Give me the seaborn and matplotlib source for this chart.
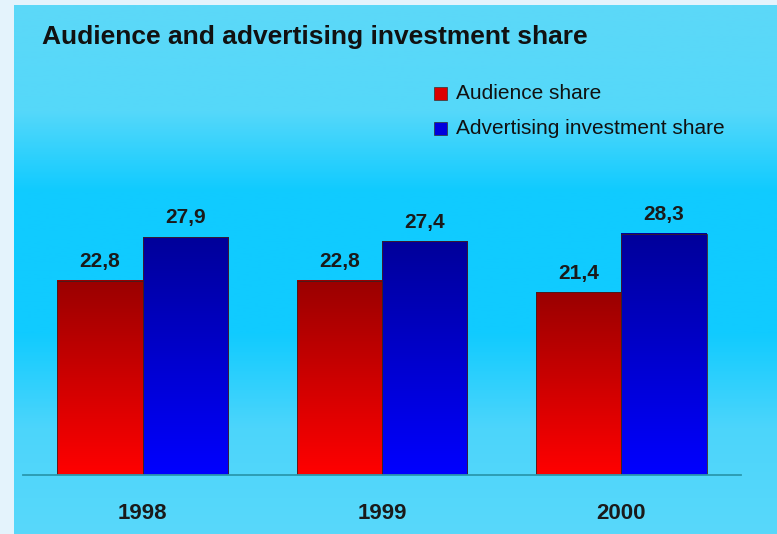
import matplotlib
matplotlib.use('Agg')
import matplotlib.pyplot as plt
import seaborn as sns
import numpy as np
import pandas as pd
from matplotlib.colors import LinearSegmentedColormap
from matplotlib.patches import Rectangle

years = ['1998', '1999', '2000']
audience = [22.8, 22.8, 21.4]
advertising = [27.9, 27.4, 28.3]
series = ['Audience share', 'Advertising investment share']

df = pd.DataFrame({
    'year': years * 2,
    'share': audience + advertising,
    'series': [series[0]] * 3 + [series[1]] * 3,
})

sns.set_theme(style='white')
plt.rcParams['font.family'] = ['Liberation Sans', 'DejaVu Sans']

W, H = 777, 534
fig = plt.figure(figsize=(W / 100, H / 100), dpi=100)
fig.patch.set_facecolor('#e4f3fc')

# panel with vertical gradient
bg = fig.add_axes([14 / W, 0, 763 / W, 529 / H], zorder=0)
bg.set_axis_off()
bg_cmap = LinearSegmentedColormap.from_list('bg', [
    (0.0, '#58d8fa'), (0.2, '#4cd5fb'), (0.38, '#10cbff'),
    (0.65, '#10cbff'), (0.8, '#55d8fa'), (1.0, '#5cd8f8')])
bg.imshow(np.linspace(0, 1, 256)[:, None], extent=[0, 1, 0, 1], origin='lower',
          aspect='auto', cmap=bg_cmap)
bg.set_xlim(0, 1)
bg.set_ylim(0, 1)

ax = fig.add_axes([23 / W, 59 / H, 718 / W, 300 / H], zorder=1)
ax.set_facecolor('none')
sns.barplot(data=df, x='year', y='share', hue='series', palette=['#cc0000', '#0000cc'],
            width=0.712, saturation=1, edgecolor='#402020', linewidth=0.6,
            legend=False, ax=ax)

cmaps = [LinearSegmentedColormap.from_list('r', ['#ff0000', '#9a0000']),
         LinearSegmentedColormap.from_list('b', ['#0000ff', '#00009a'])]
for cont, cm in zip(ax.containers, cmaps):
    for p in cont.patches:
        x0, w, h = p.get_x(), p.get_width(), p.get_height()
        p.set_facecolor('none')
        ax.imshow(np.linspace(0, 1, 128)[:, None], extent=[x0, x0 + w, 0, h],
                  origin='lower', aspect='auto', cmap=cm, zorder=p.get_zorder() - 0.1)
    ax.bar_label(cont, labels=[f'{v:.1f}'.replace('.', ',') for v in cont.datavalues],
                 padding=7, fontsize=15, fontweight='bold', color='#1a1a1a')

ax.set_xlim(-0.5, 2.5)
ax.set_ylim(0, 35.17)
ax.set_yticks([])
ax.set_xlabel('')
ax.set_ylabel('')
for s in ['left', 'top', 'right']:
    ax.spines[s].set_visible(False)
ax.spines['bottom'].set_color('#2a98ae')
ax.spines['bottom'].set_linewidth(1.3)
ax.tick_params(axis='x', length=0, pad=20, labelsize=16, labelcolor='#1a1a1a')
for t in ax.get_xticklabels():
    t.set_fontweight('bold')

fig.text(42 / W, 1 - 37 / H, 'Audience and advertising investment share',
         fontsize=19, fontweight='bold', color='#111111', va='center', ha='left', zorder=3)

# legend
leg_colors = ['#dd0000', '#0000dd']
for i, (lab, c) in enumerate(zip(series, leg_colors)):
    yc = 93.5 + 35 * i
    fig.patches.append(Rectangle((434 / W, 1 - (yc + 6.5) / H), 13 / W, 13 / H,
                                 transform=fig.transFigure, facecolor=c,
                                 edgecolor='#333333', linewidth=0.5, zorder=3))
    fig.text(456 / W, 1 - yc / H, lab, fontsize=15, color='#111111',
             va='center', ha='left', zorder=3)

fig.savefig('out.png', dpi=100, facecolor=fig.get_facecolor())
